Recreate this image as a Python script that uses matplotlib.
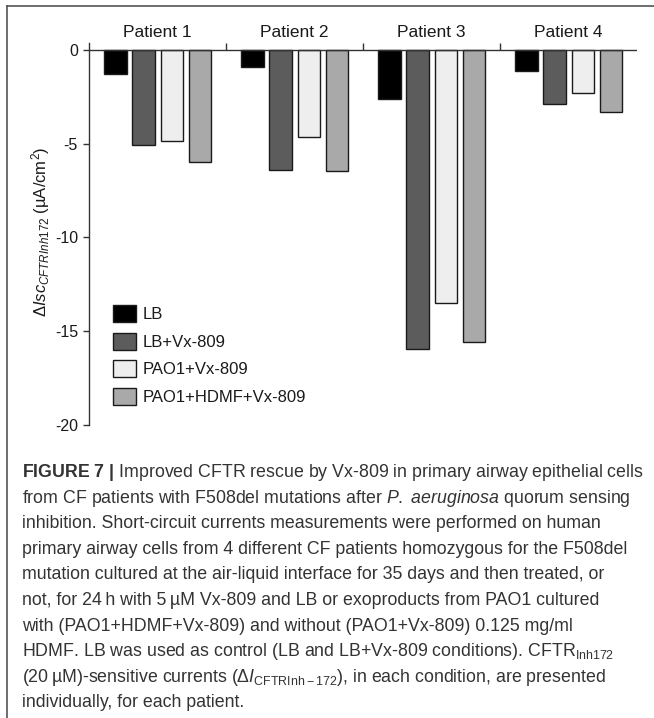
import numpy as np
import matplotlib
matplotlib.use('Agg')
import matplotlib.pyplot as plt
from matplotlib.lines import Line2D
from matplotlib.patches import Patch
import matplotlib.transforms as mtransforms

plt.rcParams['font.family'] = ['Liberation Sans', 'DejaVu Sans']
plt.rcParams['axes.unicode_minus'] = False
plt.rcParams['mathtext.fontset'] = 'custom'
plt.rcParams['mathtext.rm'] = 'Liberation Sans'
plt.rcParams['mathtext.it'] = 'Liberation Sans:italic'
plt.rcParams['mathtext.bf'] = 'Liberation Sans:bold'

# data
patients = ['Patient 1', 'Patient 2', 'Patient 3', 'Patient 4']
conditions = ['LB', 'LB+Vx-809', 'PAO1+Vx-809', 'PAO1+HDMF+Vx-809']
lb = [-1.28, -0.92, -2.62, -1.10]
lb_vx = [-5.05, -6.42, -15.96, -2.89]
pao1_vx = [-4.88, -4.63, -13.47, -2.27]
pao1_hdmf_vx = [-6.00, -6.47, -15.57, -3.31]
yticks = [0, -5, -10, -15, -20]

colors = ['#000000', '#5c5c5c', '#eeeeee', '#a9a9a9']
series = [lb, lb_vx, pao1_vx, pao1_hdmf_vx]

caption = [
    r'$\mathbf{FIGURE\ 7\ |}$ Improved CFTR rescue by Vx-809 in primary airway epithelial cells',
    r'from CF patients with F508del mutations after $\mathit{P.}$ $\mathit{aeruginosa}$ quorum sensing',
    'inhibition. Short-circuit currents measurements were performed on human',
    'primary airway cells from 4 different CF patients homozygous for the F508del',
    'mutation cultured at the air-liquid interface for 35 days and then treated, or',
    'not, for 24\u2009h with 5\u2009\u00b5M Vx-809 and LB or exoproducts from PAO1 cultured',
    'with (PAO1+HDMF+Vx-809) and without (PAO1+Vx-809) 0.125 mg/ml',
    'HDMF. LB was used as control (LB and LB+Vx-809 conditions). CFTR$_{\\mathrm{Inh172}}$',
    '(20\u2009\u00b5M)-sensitive currents (\u0394$I_{\\mathrm{CFTRInh-172}}$), in each condition, are presented',
    'individually, for each patient.',
]
ylabel = '$\\Delta\\mathit{Isc}_{\\mathit{CFTRInh172}}$ (\u00b5A/cm$^2$)'

W, H = 654, 718
fig = plt.figure(figsize=(W / 100, H / 100), dpi=100)
ax = fig.add_axes([89 / W, 1 - 425 / H, (637 - 89) / W, (425 - 43) / H])

x = np.arange(len(patients))
offsets = [-0.305, -0.10, 0.105, 0.31]
width = 0.165
for vals, col, off, lab in zip(series, colors, offsets, conditions):
    ax.bar(x + off, vals, width, color=col, edgecolor='#1a1a1a', linewidth=1.0, label=lab)

ax.set_xlim(-0.5, len(patients) - 0.5)
ax.set_ylim(-20, 0.37)
ax.axhline(0, color='#333333', lw=1.0, zorder=3)
ax.vlines(x[:-1] + 0.5, 0, ax.get_ylim()[1], color='#333333', lw=1.0)

for s in ['top', 'right', 'bottom']:
    ax.spines[s].set_visible(False)
ax.spines['left'].set_color('#333333')
ax.spines['left'].set_linewidth(1.0)
ax.set_xticks([])
ax.set_yticks(yticks)
ax.set_yticklabels([str(t) for t in yticks])
ax.tick_params(axis='y', direction='out', length=4, width=1.0, color='#333333',
               pad=4, labelsize=11.5, labelcolor='#1a1a1a')

trans = mtransforms.blended_transform_factory(ax.transData, ax.transAxes)
for i, name in enumerate(patients):
    ax.annotate(name, xy=(i, 1), xycoords=trans, xytext=(0, 4), textcoords='offset points',
                ha='center', va='baseline', fontsize=12.5, color='#1a1a1a')

fig.text(41 / W, 1 - 232 / H, ylabel, rotation=90, ha='center', va='center',
         fontsize=12, color='#1a1a1a')

handles = [Patch(facecolor=c, edgecolor='#1a1a1a', linewidth=1.0) for c in colors]
ax.legend(handles, conditions, loc='upper left', bbox_to_anchor=(113 / W, 1 - 305 / H),
          bbox_transform=fig.transFigure, frameon=False, fontsize=12, borderpad=0,
          borderaxespad=0, handlelength=1.38, handleheight=1.2, labelspacing=0.62,
          handletextpad=0.38, labelcolor='#1a1a1a')

# page frame
fig.add_artist(Line2D([7 / W, 7 / W], [0, 1 - 6 / H], color='#555555', lw=1.2))
fig.add_artist(Line2D([7 / W, 1], [1 - 6 / H, 1 - 6 / H], color='#555555', lw=1.2))

# caption, size fitted so the first line spans like the original
texts = []
for i, line in enumerate(caption):
    t = fig.text(22 / W, 1 - (477 + 25.6 * i) / H, line, ha='left', va='baseline',
                 fontsize=10.5, color='#333333')
    texts.append(t)
fig.canvas.draw()
r = fig.canvas.get_renderer()
w0 = texts[0].get_window_extent(r).width
fs = 10.5 * 622 / w0
for t in texts:
    t.set_fontsize(fs)

fig.savefig('out.png', dpi=100)
